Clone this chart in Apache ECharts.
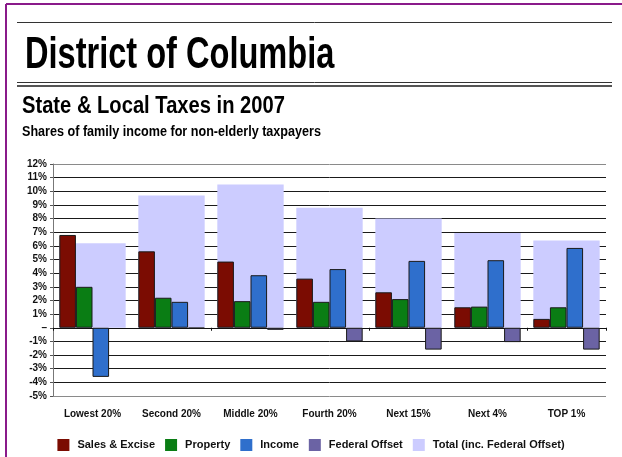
<!DOCTYPE html>
<html>
<head>
<meta charset="utf-8">
<style>
	html,body{margin:0;padding:0;background:#fff;}
	#chart{width:622px;height:457px;}
</style>
</head>
<body>
<div id="chart"></div>
<script src="https://cdn.jsdelivr.net/npm/echarts@6/dist/echarts.min.js"></script>
<script>
var categories = ['Lowest 20%', 'Second 20%', 'Middle 20%', 'Fourth 20%', 'Next 15%', 'Next 4%', 'TOP 1%'];
var salesExcise = [6.8, 5.6, 4.85, 3.6, 2.6, 1.5, 0.65];
var property = [3.0, 2.2, 1.95, 1.9, 2.1, 1.55, 1.5];
var income = [-3.6, 1.9, 3.85, 4.3, 4.9, 4.95, 5.85];
var federalOffset = [null, -0.05, -0.15, -1.0, -1.6, -1.05, -1.6];
var total = [6.2, 9.7, 10.5, 8.8, 8.0, 6.95, 6.4];

var font = '"Liberation Sans", Arial, sans-serif';
var chart = echarts.init(document.getElementById('chart'));

// grid lines: bottom and top ones are lighter
var splitColors = [];
for (var i = 0; i < 18; i++) {
	splitColors.push(i === 0 || i === 17 ? '#8a8a8a' : '#1a1a1a');
}

function bar(name, data, color) {
	return {
		name: name,
		type: 'bar',
		xAxisIndex: 0,
		data: data,
		barGap: 0,
		barCategoryGap: '16%',
		itemStyle: {color: color, borderColor: '#1a1a1a', borderWidth: 1},
		z: 3
	};
}

// condensed headline text (squeezed horizontally)
function headline(text, x, y, size, sx) {
	return {
		type: 'text', x: x, y: y, scaleX: sx,
		style: {text: text, fill: '#000', font: 'bold ' + size + 'px ' + font, verticalAlign: 'middle'}
	};
}

var option = {
	animation: false,
	backgroundColor: '#fff',
	textStyle: {fontFamily: font},
	graphic: [
		{type: 'line', shape: {x1: 6, y1: 4, x2: 622, y2: 4}, style: {stroke: '#8a1a8a', lineWidth: 2}},
		{type: 'line', shape: {x1: 6, y1: 4, x2: 6, y2: 457}, style: {stroke: '#8a1a8a', lineWidth: 2}},
		{type: 'line', shape: {x1: 17, y1: 22.5, x2: 612, y2: 22.5}, style: {stroke: '#333', lineWidth: 1}},
		{type: 'line', shape: {x1: 17, y1: 82.5, x2: 612, y2: 82.5}, style: {stroke: '#333', lineWidth: 1}},
		{type: 'line', shape: {x1: 17, y1: 86, x2: 612, y2: 86}, style: {stroke: '#555', lineWidth: 2}},
		headline('District of Columbia', 25, 56, 44, 0.74),
		headline('State & Local Taxes in 2007', 22, 106, 24, 0.84),
		headline('Shares of family income for non-elderly taxpayers', 22, 132, 14, 0.9)
	],
	legend: {
		bottom: 1,
		left: 'center',
		itemWidth: 12,
		itemHeight: 12,
		itemGap: 10,
		icon: 'rect',
		itemStyle: {borderWidth: 0},
		textStyle: {fontSize: 11, fontWeight: 'bold', color: '#111', fontFamily: font, padding: [0, 0, 0, 3]},
		data: ['Sales & Excise', 'Property', 'Income', 'Federal Offset', 'Total (inc. Federal Offset)']
	},
	grid: {left: 53, right: 16, top: 164, bottom: 61},
	xAxis: [
		{
			type: 'category',
			data: categories,
			axisLine: {onZero: true, lineStyle: {color: '#111', width: 1}},
			axisTick: {show: true, length: 3, lineStyle: {color: '#111'}},
			axisLabel: {show: false}
		},
		{
			type: 'category',
			data: categories,
			position: 'bottom',
			axisLine: {show: false},
			axisTick: {show: false},
			axisLabel: {interval: 0, fontSize: 10, fontWeight: 'bold', color: '#111', margin: 13, fontFamily: font}
		}
	],
	yAxis: {
		type: 'value',
		min: -5,
		max: 12,
		interval: 1,
		axisLine: {show: true, lineStyle: {color: '#777'}},
		axisTick: {show: true, length: 3, lineStyle: {color: '#555'}},
		axisLabel: {
			fontSize: 10, fontWeight: 'bold', color: '#111', margin: 6, fontFamily: font,
			formatter: function (v) { return v === 0 ? '\u2013' : v + '%'; }
		},
		splitLine: {show: true, lineStyle: {color: splitColors, width: 1}}
	},
	series: [
		bar('Sales & Excise', salesExcise, '#7b0c02'),
		bar('Property', property, '#0a7d14'),
		bar('Income', income, '#2f6fcc'),
		bar('Federal Offset', federalOffset, '#6b63a4'),
		{
			name: 'Total (inc. Federal Offset)',
			type: 'bar',
			xAxisIndex: 1,
			data: total,
			barCategoryGap: '16%',
			itemStyle: {color: '#ccccff'},
			z: 1
		}
	]
};
chart.setOption(option);
</script>
</body>
</html>
